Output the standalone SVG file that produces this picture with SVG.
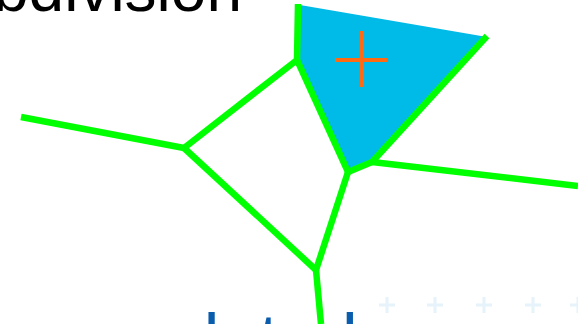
<svg xmlns="http://www.w3.org/2000/svg" width="578" height="324" viewBox="0 0 578 324">
  <style>
    .edge { stroke: #00FF00; stroke-width: 6.5; fill: none; stroke-linecap: butt; stroke-linejoin: round; }
    .faint { stroke: #E6F3FB; stroke-width: 3; fill: none; }
    .title { font-family: "Liberation Sans", Arial, sans-serif; font-size: 64px; fill: #000000; }
    .label { font-family: "Liberation Sans", Arial, sans-serif; font-size: 71px; fill: #0A5CAD; }
  </style>
  <rect width="578" height="324" fill="#FFFFFF"/>
  <text class="title" x="242" y="11" text-anchor="end">Subdivision</text>
  <g id="new-cell">
    <polygon points="300,5 487,37 372,162 348,172 297,60" fill="#00BBE7"/>
  </g>
  <g id="site">
    <path d="M335,60 H387 M362,31 V87" stroke="#FF6A13" stroke-width="4" fill="none"/>
  </g>
  <g id="faint-sites">
    <path class="faint" d="M379,305 h16 M387,297 v16"/>
    <path class="faint" d="M427,305 h16 M435,297 v16"/>
    <path class="faint" d="M476,305 h16 M484,297 v16"/>
    <path class="faint" d="M525,305 h16 M533,297 v16"/>
    <path class="faint" d="M570,305 h16 M578,297 v16"/>
  </g>
  <g id="connectors">
    <path class="edge" d="M21,117 L184,148"/>
    <path class="edge" d="M184,148 L297,60"/>
    <path class="edge" d="M184,148 L316,270"/>
    <path class="edge" d="M298,4 L297,60"/>
    <path class="edge" d="M297,60 L348,172"/>
    <path class="edge" d="M348,172 L372,162"/>
    <path class="edge" d="M372,162 L487,36"/>
    <path class="edge" d="M372,162 L578,186"/>
    <path class="edge" d="M348,172 L316,270"/>
    <path class="edge" d="M316,270 L321,324"/>
  </g>
  <text class="label" x="101" y="363">updated</text>
</svg>
